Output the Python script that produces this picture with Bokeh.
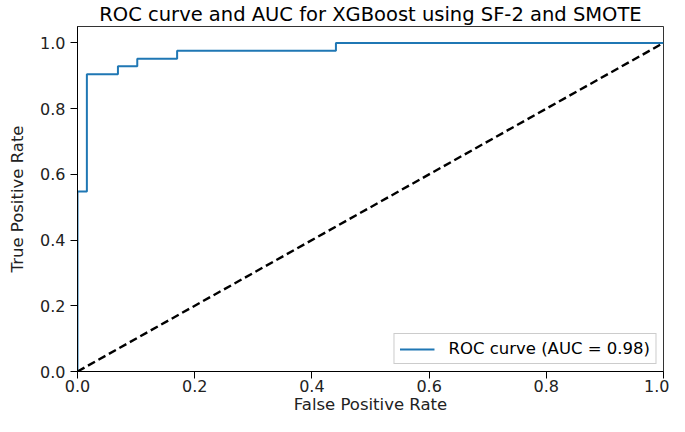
from bokeh.plotting import figure
from bokeh.models import Range1d, FixedTicker, Legend, LegendItem
from bokeh.embed import file_html
from bokeh.resources import INLINE

# ROC curve data (step points)
fpr = [0.0, 0.0, 0.016, 0.016, 0.069, 0.069, 0.102, 0.102, 0.170, 0.170, 0.441, 0.441, 1.0]
tpr = [0.0, 0.548, 0.548, 0.905, 0.905, 0.929, 0.929, 0.952, 0.952, 0.976, 0.976, 1.0, 1.0]
diag_x = [0.0, 1.0]
diag_y = [0.0, 1.0]
ticks = [0.0, 0.2, 0.4, 0.6, 0.8, 1.0]
auc_label = "ROC curve (AUC = 0.98)"
title_text = "ROC curve and AUC for XGBoost using SF-2 and SMOTE"

FONT = "DejaVu Sans"

p = figure(width=669, height=416, output_backend="svg", toolbar_location=None,
           x_range=Range1d(0, 1), y_range=Range1d(0, 1.05),
           min_border_left=77, min_border_right=6, min_border_top=24, min_border_bottom=40)

p.title.text = title_text
p.title.align = "center"
p.title.text_font = FONT
p.title.text_font_size = "19.5px"
p.title.text_font_style = "normal"
p.title.text_color = "black"
p.title.standoff = 1
p.title.offset = 0

roc = p.line(fpr, tpr, line_color="#1f77b4", line_width=2)
p.line(diag_x, diag_y, line_color="black", line_width=2.4, line_dash="8 4")

legend = Legend(items=[LegendItem(label=auc_label, renderers=[roc])], location="bottom_right")
legend.label_text_font = FONT
legend.label_text_font_size = "16.5px"
legend.label_text_color = "black"
legend.glyph_width = 35
legend.glyph_height = 18
legend.label_height = 18
legend.label_standoff = 14
legend.margin = 7
legend.padding = 5
legend.border_line_color = "#cccccc"
legend.border_line_alpha = 1
legend.background_fill_alpha = 0.8
p.add_layout(legend)

p.grid.visible = False
p.outline_line_color = "black"
p.outline_line_width = 1
p.outline_line_alpha = 0.8
p.background_fill_color = "white"

for ax in (p.xaxis, p.yaxis):
    ax.ticker = FixedTicker(ticks=ticks)
    ax.minor_tick_line_color = None
    ax.major_tick_out = 7
    ax.major_tick_in = 0
    ax.major_tick_line_color = "black"
    ax.axis_line_color = "black"
    ax.major_label_text_font = FONT
    ax.major_label_text_font_size = "16px"
    ax.major_label_text_color = "#222222"
    ax.axis_label_text_font = FONT
    ax.axis_label_text_font_size = "16.5px"
    ax.axis_label_text_font_style = "normal"
    ax.axis_label_text_color = "#222222"

p.xaxis.axis_label = "False Positive Rate"
p.yaxis.axis_label = "True Positive Rate"
p.xaxis.major_label_overrides = {t: f"{t:.1f}" for t in ticks}
p.yaxis.major_label_overrides = {t: f"{t:.1f}" for t in ticks}
p.xaxis.axis_label_standoff = 0
p.yaxis.axis_label_standoff = 10
p.xaxis.major_label_standoff = 1
p.yaxis.major_label_standoff = 5

open("out.html", "w").write(file_html(p, INLINE))
